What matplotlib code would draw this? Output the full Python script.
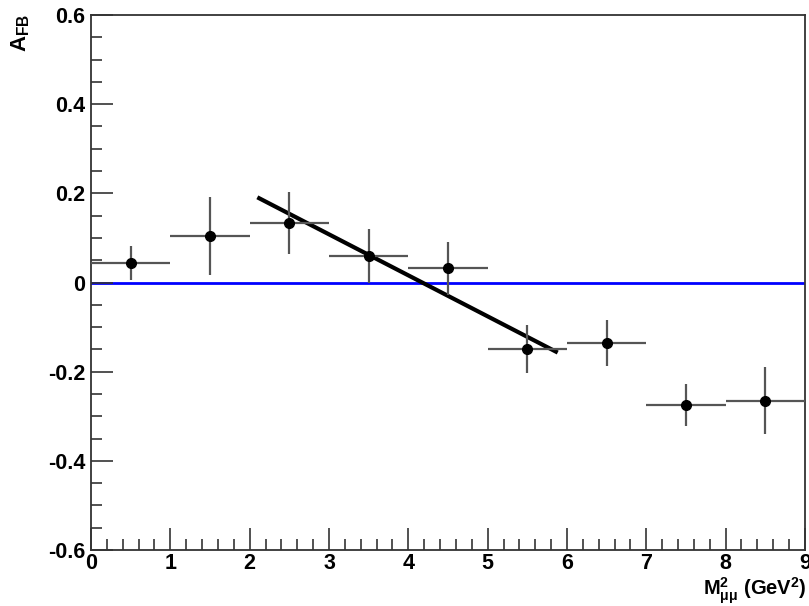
import numpy as np
import matplotlib.pyplot as plt
from matplotlib.ticker import MultipleLocator

# bin centres, half widths, asymmetry and errors
mass2 = [0.5, 1.5, 2.5, 3.5, 4.5, 5.5, 6.5, 7.5, 8.5]
half_bin = [0.5, 0.5, 0.5, 0.5, 0.5, 0.5, 0.5, 0.5, 0.5]
afb = [0.044, 0.104, 0.133, 0.059, 0.032, -0.150, -0.136, -0.275, -0.265]
afb_err = [0.038, 0.088, 0.069, 0.060, 0.060, 0.054, 0.052, 0.047, 0.075]

# linear fit drawn over the middle bins
fit_x = [2.12, 5.86]
fit_y = [0.189, -0.155]

plt.rcParams['font.family'] = ['Liberation Sans', 'DejaVu Sans']
plt.rcParams['mathtext.fontset'] = 'custom'
plt.rcParams['mathtext.rm'] = 'Liberation Sans:bold'
plt.rcParams['mathtext.it'] = 'Liberation Sans:bold'
plt.rcParams['mathtext.bf'] = 'Liberation Sans:bold'

fig = plt.figure(figsize=(8.09, 6.06), dpi=100)
ax = fig.add_axes([0.1125, 0.0924, 0.8825, 0.8828])

ax.axhline(0, color='#0000ff', lw=2, zorder=1)
ax.errorbar(mass2, afb, xerr=half_bin, yerr=afb_err, fmt='o', color='black',
            ecolor='#555555', elinewidth=1.6, capsize=0, markersize=7, zorder=3)
ax.plot(fit_x, fit_y, color='black', lw=3, zorder=2)

ax.set_xlim(0, 9)
ax.set_ylim(-0.6, 0.6)
ax.xaxis.set_major_locator(MultipleLocator(1))
ax.xaxis.set_minor_locator(MultipleLocator(0.2))
ax.yaxis.set_major_locator(MultipleLocator(0.2))
ax.yaxis.set_minor_locator(MultipleLocator(0.05))
ax.tick_params(which='both', direction='in', top=False, right=False,
               color='#333333', width=1.2)
ax.tick_params(which='major', length=16, labelsize=15.5)
ax.tick_params(axis='x', which='major', pad=2)
ax.tick_params(axis='y', which='major', pad=4)
ax.tick_params(which='minor', length=8)
ax.set_yticks([-0.6, -0.4, -0.2, 0, 0.2, 0.4, 0.6])
ax.set_yticklabels(['-0.6', '-0.4', '-0.2', '0', '0.2', '0.4', '0.6'])
for lab in ax.get_xticklabels() + ax.get_yticklabels():
    lab.set_fontweight('bold')
for s in ax.spines.values():
    s.set_color('#333333')
    s.set_linewidth(1.3)

fig.text(0.026, 0.978, r'A$_{\rm FB}$', rotation=90, fontsize=16,
         fontweight='bold', ha='center', va='top')
fig.text(0.997, 0.0, r'M$^{2}_{\mu\mu}$ (GeV$^{2}$)', fontsize=14.5,
         fontweight='bold', ha='right', va='bottom')

fig.savefig('out.png', dpi=100)
